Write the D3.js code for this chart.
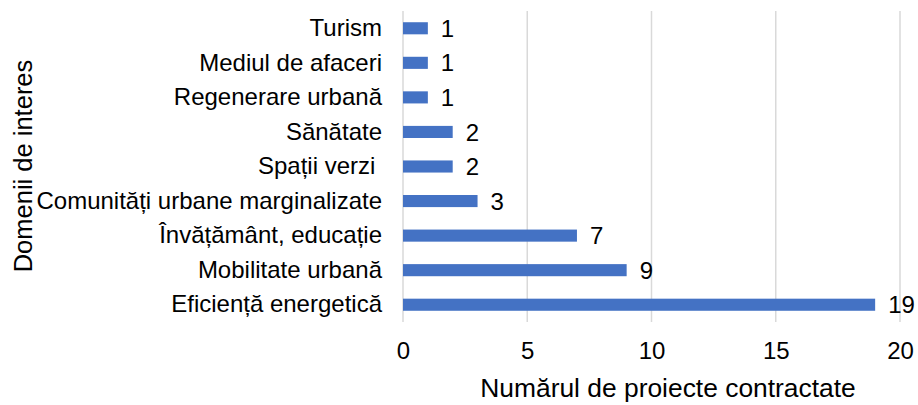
<!DOCTYPE html>
<html><head><meta charset="utf-8">
<script src="https://cdn.jsdelivr.net/npm/d3@7"></script>
<style>
html,body{margin:0;padding:0;background:#fff;}
text{font-family:"Liberation Sans",Arial,sans-serif;fill:#000;}
</style></head>
<body><svg id="c" width="918" height="405"></svg>
<script>
const categories = ["Turism","Mediul de afaceri","Regenerare urbană","Sănătate","Spații verzi ","Comunități urbane marginalizate","Învățământ, educație","Mobilitate urbană","Eficiență energetică"];
const values = [1,1,1,2,2,3,7,9,19];
const xTicks = [0,5,10,15,20];
const xTitle = "Numărul de proiecte contractate";
const yTitle = "Domenii de interes";

(function(){
const svg = d3.select("#c");
const pL = 403, pR = 900, pT = 11, pB = 322;
const x = d3.scaleLinear().domain([0,20]).range([pL,pR]);
const y = d3.scaleBand().domain(categories).range([pT,pB]).paddingInner(0.65).paddingOuter(0.325);

svg.append("g").selectAll("line").data(xTicks).join("line")
  .attr("x1",d=>x(d)).attr("x2",d=>x(d)).attr("y1",pT).attr("y2",pB)
  .attr("stroke","#d9d9d9").attr("stroke-width",1.5);

svg.append("g").selectAll("rect").data(values).join("rect")
  .attr("x",x(0)).attr("y",(d,i)=>y(categories[i]))
  .attr("width",d=>x(d)-x(0)).attr("height",y.bandwidth())
  .attr("fill","#4472c4");

svg.append("g").selectAll("text").data(values).join("text")
  .attr("x",d=>x(d)+13).attr("y",(d,i)=>y(categories[i])+y.bandwidth()/2)
  .attr("dy","0.36em").attr("font-size",24).text(d=>d);

const yAxis = d3.axisLeft(y).tickSize(0).tickPadding(21);
const gy = svg.append("g").attr("transform",`translate(${pL},0)`).call(yAxis);
gy.select(".domain").remove();
gy.selectAll("text").attr("font-size",24).attr("font-family",null).attr("fill","#000").style("white-space","pre");

const xAxis = d3.axisBottom(x).tickValues(xTicks).tickSize(0).tickPadding(20);
const gx = svg.append("g").attr("transform",`translate(0,${pB})`).call(xAxis);
gx.select(".domain").remove();
gx.selectAll("text").attr("font-size",24).attr("font-family",null).attr("fill","#000");

svg.append("text").attr("x",668).attr("y",397).attr("text-anchor","middle").attr("font-size",26.4).text(xTitle);
svg.append("text").attr("transform",`translate(32,166) rotate(-90)`).attr("text-anchor","middle").attr("font-size",25.5).text(yTitle);
})();
</script></body></html>
